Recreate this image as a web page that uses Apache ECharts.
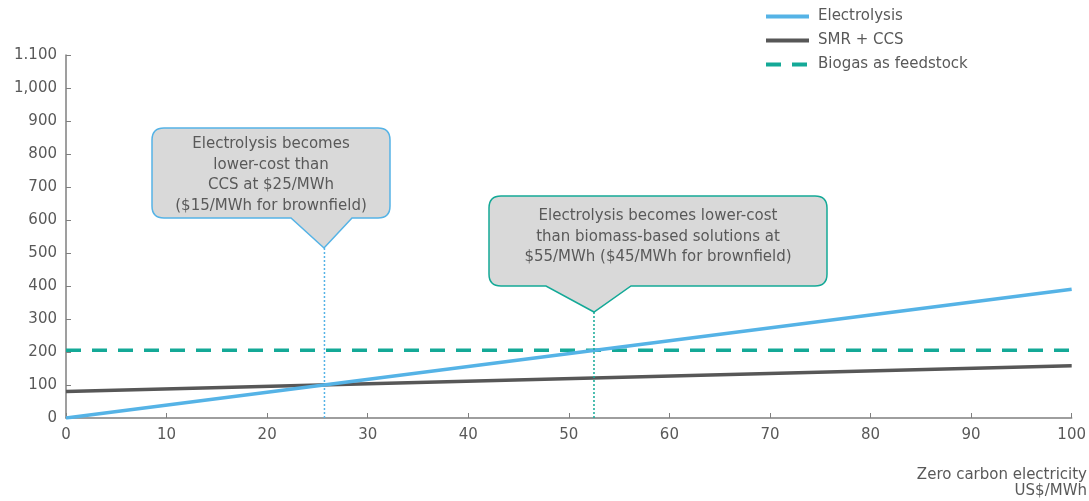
<!DOCTYPE html>
<html><head><meta charset="utf-8">
<script src="https://cdn.jsdelivr.net/npm/echarts@6/dist/echarts.min.js"></script>
<style>html,body{margin:0;padding:0;background:#fff}#c{width:1089px;height:501px}</style>
</head><body><div id="c"></div>
<script>
// ---- data ----
var xValues = [0, 100];
var electrolysis = [0, 390];
var smrCcs = [80, 158];
var biogas = [205, 205];
var seriesNames = ['Electrolysis', 'SMR + CCS', 'Biogas as feedstock'];
var yTickLabels = ['0','100','200','300','400','500','600','700','800','900','1,000','1.100'];
var xTickLabels = ['0','10','20','30','40','50','60','70','80','90','100'];
var calloutX = [25.7, 52.5];
var calloutTipY = [515, 321];
var calloutText = [
  'Electrolysis becomes\nlower-cost than\nCCS at $25/MWh\n($15/MWh for brownfield)',
  'Electrolysis becomes lower-cost\nthan biomass-based solutions at\n$55/MWh ($45/MWh for brownfield)'
];
var axisTitle = 'Zero carbon electricity\nUS$/MWh';

// ---- styles ----
var FONT = '"DejaVu Sans", sans-serif';
var TXT = '#595959';
var BLUE = '#55b3e6';
var DARK = '#575757';
var TEAL = '#14a997';
var calloutBorder = [BLUE, TEAL];
// box geometry relative to the tip (pixels)
var calloutBox = [
  {l: -172, r: 66, t: -120, b: -30, p1: -33, p2: 28, dy: 2},
  {l: -105, r: 233, t: -116, b: -26, p1: -48, p2: 37, dy: -4}
];

function pairs(xs, ys) { return xs.map(function (x, i) { return [x, ys[i]]; }); }

function bubblePath(L, T, R, B, r, p1, p2, tx, ty) {
  return 'M' + (L + r) + ',' + T + ' L' + (R - r) + ',' + T + ' Q' + R + ',' + T + ' ' + R + ',' + (T + r) +
    ' L' + R + ',' + (B - r) + ' Q' + R + ',' + B + ' ' + (R - r) + ',' + B +
    ' L' + p2 + ',' + B + ' L' + tx + ',' + ty + ' L' + p1 + ',' + B +
    ' L' + (L + r) + ',' + B + ' Q' + L + ',' + B + ' ' + L + ',' + (B - r) +
    ' L' + L + ',' + (T + r) + ' Q' + L + ',' + T + ' ' + (L + r) + ',' + T + ' Z';
}

var chart = echarts.init(document.getElementById('c'), null, {renderer: 'canvas'});
var option = {
  animation: false,
  backgroundColor: '#fff',
  textStyle: {fontFamily: FONT},
  grid: {left: 66, right: 16, top: 55, bottom: 83},
  legend: {
    data: seriesNames,
    orient: 'vertical', left: 759, top: 4,
    itemWidth: 43, itemHeight: 14, itemGap: 9,
    itemStyle: {opacity: 0},
    lineStyle: {width: 4},
    textStyle: {fontSize: 15, color: TXT, fontFamily: FONT, padding: [0, 0, 0, 4]}
  },
  xAxis: {
    type: 'value', min: 0, max: 100, interval: 10,
    axisLine: {lineStyle: {color: '#7f7f7f', width: 1.5}},
    axisTick: {inside: true, length: 5, lineStyle: {color: '#7f7f7f'}},
    splitLine: {show: false},
    axisLabel: {fontSize: 15, color: TXT, margin: 10, formatter: function (v) { return xTickLabels[Math.round(v / 10)]; }}
  },
  yAxis: {
    type: 'value', min: 0, max: 1100, interval: 100,
    axisLine: {show: true, lineStyle: {color: '#7f7f7f', width: 1.5}},
    axisTick: {show: true, inside: true, length: 5, lineStyle: {color: '#7f7f7f'}},
    splitLine: {show: false},
    axisLabel: {fontSize: 15, color: TXT, margin: 9, formatter: function (v) { return yTickLabels[Math.round(v / 100)]; }}
  },
  graphic: [{
    type: 'text', x: 1087, y: 467,
    style: {text: axisTitle, fill: TXT, font: '15px ' + FONT, align: 'right', verticalAlign: 'top', lineHeight: 16}
  }],
  series: [
    {name: seriesNames[2], type: 'line', data: pairs(xValues, biogas), symbol: 'none', z: 3,
     lineStyle: {color: TEAL, width: 3.5, type: [15, 11]}, itemStyle: {color: TEAL}},
    {name: seriesNames[1], type: 'line', data: pairs(xValues, smrCcs), symbol: 'none', z: 4,
     lineStyle: {color: DARK, width: 3.5}, itemStyle: {color: DARK}},
    {name: seriesNames[0], type: 'line', data: pairs(xValues, electrolysis), symbol: 'none', z: 5,
     lineStyle: {color: BLUE, width: 3.5}, itemStyle: {color: BLUE}},
    {name: 'guide1', type: 'line', data: [[calloutX[0], 0], [calloutX[0], calloutTipY[0]]], symbol: 'none', z: 6, silent: true,
     lineStyle: {color: BLUE, width: 1.5, type: [2, 2]}},
    {name: 'guide2', type: 'line', data: [[calloutX[1], 0], [calloutX[1], calloutTipY[1]]], symbol: 'none', z: 6, silent: true,
     lineStyle: {color: TEAL, width: 1.5, type: [2, 2]}},
    {name: 'callouts', type: 'custom', z: 10, silent: true,
     data: calloutX.map(function (x, i) { return [x, calloutTipY[i], i]; }),
     renderItem: function (params, api) {
       var i = api.value(2);
       var p = api.coord([api.value(0), api.value(1)]);
       var tx = Math.round(p[0]), ty = Math.round(p[1]);
       var g = calloutBox[i];
       var L = tx + g.l, R = tx + g.r, T = ty + g.t, B = ty + g.b;
       var d = bubblePath(L, T, R, B, 12, tx + g.p1, tx + g.p2, tx, ty);
       return {
         type: 'group',
         children: [
           {type: 'path', shape: {pathData: d, x: L, y: T, width: R - L, height: ty - T, layout: 'cover'},
            style: {fill: '#d9d9d9', stroke: calloutBorder[i], lineWidth: 1.5}},
           {type: 'text', style: {text: calloutText[i], x: (L + R) / 2, y: (T + B) / 2 + g.dy,
             align: 'center', verticalAlign: 'middle', fill: TXT, font: '15px ' + FONT, lineHeight: 20.5}}
         ]
       };
     }}
  ]
};
chart.setOption(option);
</script></body></html>
